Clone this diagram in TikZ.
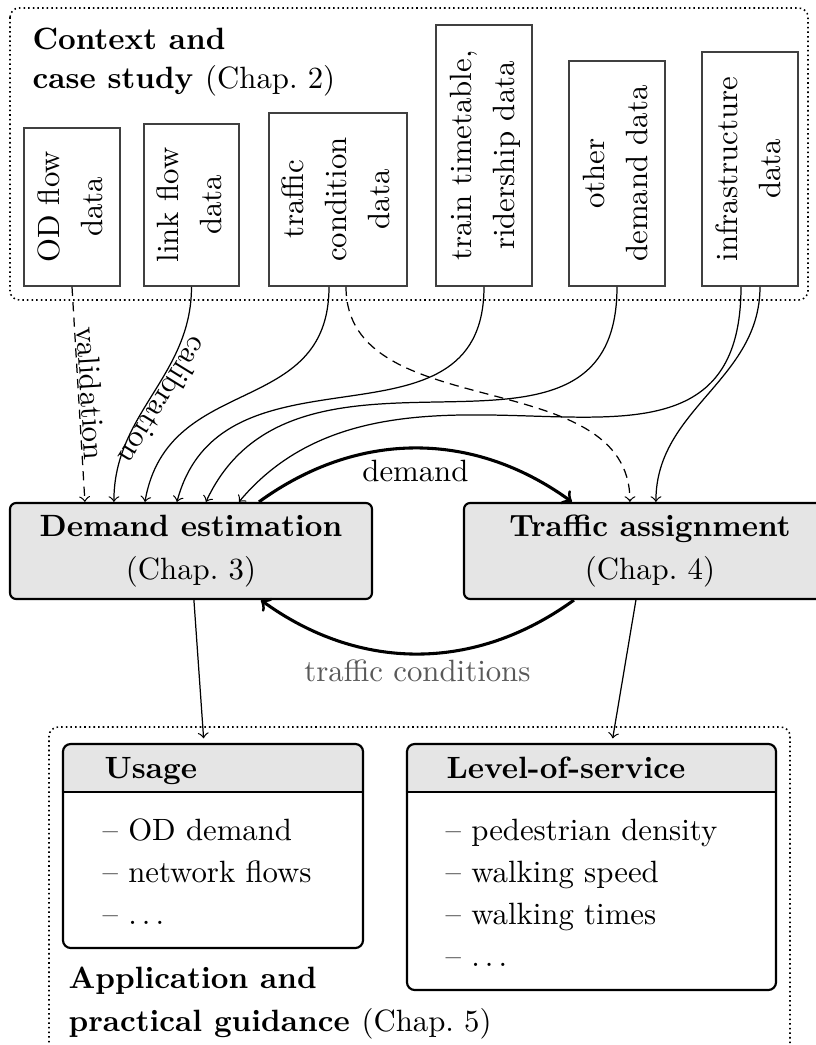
\documentclass[tikz,border=0pt]{standalone}
\usetikzlibrary{calc,backgrounds}

% one drawing unit
\newcommand\pxu{0.3247pt}
% vertical multi-line label for the data sources
\newcommand\vlabel[1]{\rotatebox{90}{\renewcommand\arraystretch{1.1667}\begin{tabular}{@{}c@{}}#1\end{tabular}}}

\tikzset{
  wh/.style 2 args={minimum width=#1*\pxu, minimum height=#2*\pxu},
  srcbox/.style={draw=black!75, line width=0.5pt, inner sep=0pt},
  bigbox/.style={draw, line width=0.7pt, fill=black!10, rounded corners=2pt,
                 align=center, inner sep=0pt, font=\fontsize{10}{14}\selectfont},
  outbox/.style={draw, line width=0.7pt, rounded corners=2.5pt, inner sep=0pt},
  flow/.style={->, line width=0.4pt},
  hint/.style={dash pattern=on 3pt off 2pt},
  loopflow/.style={->, line width=1pt},
  frame/.style={densely dotted, line width=0.5pt, rounded corners=3pt},
  lbl/.style={inner sep=0.5pt},
}

\begin{document}
\begin{tikzpicture}[x=\pxu, y=\pxu]
\useasboundingbox (0,0) rectangle (815,-1045);

% ---------- data sources ----------
\draw[frame] (10,-8) rectangle (808,-300);
\node[anchor=north west, align=left, inner sep=0pt,
      font=\fontsize{10}{12.66}\selectfont\bfseries] (ctxtitle) at (32,-27.6)
      {Context and\\case study {\mdseries(Chap.~2)}};

\node[srcbox, wh={96}{158}]  (od)    at (72,-207)    {\vlabel{OD flow\\data}};
\node[srcbox, wh={95}{162}]  (link)  at (191.5,-205) {\vlabel{link flow\\data}};
\node[srcbox, wh={138}{173}] (traf)  at (338,-199.5) {\vlabel{traffic\\condition\\data}};
\node[srcbox, wh={96}{261}]  (train) at (484,-155.5) {\vlabel{train timetable,\\ridership data}};
\node[srcbox, wh={96}{225}]  (other) at (617,-173.5) {\vlabel{other\\demand data}};
\node[srcbox, wh={96}{234}]  (infra) at (750,-169)   {\vlabel{infrastructure\\data}};

% ---------- models ----------
\node[bigbox, wh={362}{96}] (de) at (191,-551) {\textbf{Demand estimation}\\(Chap.~3)};
\node[bigbox, wh={372}{96}] (ta) at (650,-551) {\textbf{Traffic assignment}\\(Chap.~4)};

% inputs of the models
\draw[flow, hint] (od.south) -- ($(de.north west)+(76,0)$)
  node[midway, sloped, above, lbl] (val) {validation};
\draw[flow] (link.south) to[out=-90, in=90]
  node[pos=0.5, sloped, allow upside down, above, lbl] (cal) {calibration}
  ($(de.north west)+(105,0)$);
\draw[flow] ($(traf.south)+(-9,0)$) to[out=-90, in=80, looseness=1.2] ($(de.north west)+(136,0)$);
\draw[flow] (train.south) to[out=-90, in=75, looseness=1.2] ($(de.north west)+(168,0)$);
\draw[flow] (other.south) to[out=-90, in=65, looseness=1.2] ($(de.north west)+(197,0)$);
\draw[flow] ($(infra.south)+(-9,0)$) to[out=-90, in=50, looseness=1.2] ($(de.north west)+(230,0)$);
\draw[flow, hint] ($(traf.south)+(8,0)$) to[out=-90, in=90] ($(ta.north west)+(167,0)$);
\draw[flow] ($(infra.south)+(10,0)$) to[out=-90, in=90] ($(ta.north west)+(193,0)$);

% feedback loop between the two models
\draw[loopflow] ($(de.north west)+(250,0)$) to[bend left=36]
  node[midway, below] (dem) {demand} ($(ta.north west)+(109,0)$);
\draw[loopflow] ($(ta.south west)+(111,0)$) to[bend left=36]
  node[midway, below, inner sep=1.5pt, text=black!65] (tcond) {traffic conditions}
  ($(de.south west)+(252,0)$);

% ---------- applications ----------
\draw[frame] (49,-1070) -- (49,-727) -- (790,-727) -- (790,-1070);

\node[outbox, wh={300}{204}] (usage) at (213,-846) {};
\node[outbox, wh={369}{246}] (los)   at (591.5,-867) {};

\begin{scope}[on background layer]
  \begin{scope}
    \clip (usage.north west) rectangle ($(usage.north east)+(0,-49)$);
    \fill[black!10, rounded corners=2.5pt] (usage.north west) rectangle (usage.south east);
  \end{scope}
  \begin{scope}
    \clip (los.north west) rectangle ($(los.north east)+(0,-49)$);
    \fill[black!10, rounded corners=2.5pt] (los.north west) rectangle (los.south east);
  \end{scope}
\end{scope}
\draw[line width=0.7pt] ($(usage.north west)+(0,-49)$) -- ($(usage.north east)+(0,-49)$);
\draw[line width=0.7pt] ($(los.north west)+(0,-49)$) -- ($(los.north east)+(0,-49)$);

\node[anchor=base west, inner sep=0pt, font=\bfseries] (usagehead) at (104,-778) {Usage};
\node[anchor=base west, inner sep=0pt, font=\bfseries] (loshead) at (446,-778) {Level-of-service};

\node[anchor=north west, align=left, inner sep=0pt, font=\fontsize{10}{13.6}\selectfont]
  (usagelist) at (102,-818.6)
  {\textendash{} OD demand\\\textendash{} network flows\\\textendash{} $\ldots$};
\node[anchor=north west, align=left, inner sep=0pt, font=\fontsize{10}{13.6}\selectfont]
  (loslist) at (445,-818.6)
  {\textendash{} pedestrian density\\\textendash{} walking speed\\\textendash{} walking times\\\textendash{} $\ldots$};

\node[anchor=north west, align=left, inner sep=0pt,
      font=\fontsize{10}{14}\selectfont\bfseries] (apptitle) at (68,-966.6)
      {Application and\\practical guidance {\mdseries(Chap.~5)}};

% outputs of the models
\draw[flow, shorten >=1.5pt] ($(de.south west)+(185,0)$) -- ($(usage.north west)+(142,0)$);
\draw[flow, shorten >=1.5pt] ($(ta.south west)+(173,0)$) -- ($(los.north west)+(206,0)$);
\end{tikzpicture}
\end{document}
